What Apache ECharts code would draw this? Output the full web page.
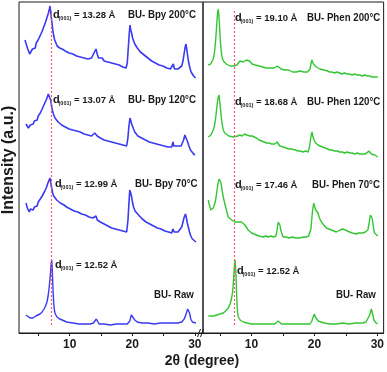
<!DOCTYPE html>
<html><head><meta charset="utf-8">
<script src="https://cdn.jsdelivr.net/npm/echarts@6/dist/echarts.min.js"></script>
<style>html,body{margin:0;padding:0;background:#fff}#c{width:387px;height:372px}</style>
</head><body><div id="c"></div>
<script>
// ---- data: [2theta, intensity (a.u.)] ----
var bpy200 = [[2.86,293],[3.0,290],[3.15,287],[3.3,284],[3.45,282],[3.6,279],[3.75,281],[3.9,280],[4.05,284],[4.2,282],[4.35,286],[4.5,285],[4.65,290],[4.8,289],[4.95,293],[5.1,292],[5.25,297],[5.4,296],[5.55,301],[5.7,300],[5.85,306],[6.0,305],[6.15,311],[6.3,312],[6.45,317],[6.6,320],[6.75,324],[6.85,327],[6.95,322],[7.05,316],[7.15,311],[7.3,303],[7.45,297],[7.6,293],[7.8,290],[8.0,287],[8.2,289],[8.4,285],[8.6,287],[8.8,284],[9.0,286],[9.3,282],[9.6,284],[9.9,280],[10.2,282],[10.5,279],[10.8,281],[11.1,277],[11.4,279],[11.7,276],[12.0,278],[12.3,275],[12.6,277],[12.9,274],[13.2,276],[13.5,275],[13.8,279],[14.0,281],[14.2,284],[14.4,279],[14.6,275],[14.9,273],[15.2,275],[15.5,272],[15.8,274],[16.1,271],[16.4,273],[16.7,270],[17.0,272],[17.3,269],[17.6,271],[17.9,268],[18.2,269],[18.5,266],[18.8,267],[19.0,265],[19.2,270],[19.35,284],[19.5,298],[19.63,308],[19.75,303],[19.9,300],[20.05,295],[20.2,293],[20.4,289],[20.6,287],[20.8,285],[21.0,284],[21.3,281],[21.6,281],[21.9,278],[22.2,278],[22.5,275],[22.8,275],[23.1,272],[23.4,273],[23.7,270],[24.0,271],[24.3,268],[24.6,269],[24.9,267],[25.2,268],[25.5,265],[25.8,266],[26.1,264],[26.35,266],[26.55,269],[26.75,264],[27.0,265],[27.3,264],[27.6,266],[27.9,267],[28.1,272],[28.3,280],[28.45,286],[28.58,289],[28.7,284],[28.85,277],[29.0,271],[29.2,265],[29.4,261],[29.6,259],[29.8,257],[30.0,257],[30.12,255]];
var bpy120 = [[3.02,209],[3.2,207],[3.4,205],[3.55,206],[3.7,208],[3.85,207],[4.0,210],[4.18,209],[4.35,212],[4.5,211],[4.65,214],[4.8,213],[4.98,217],[5.15,217],[5.3,220],[5.45,220],[5.6,224],[5.78,225],[5.95,229],[6.1,229],[6.25,233],[6.42,235],[6.58,239],[6.74,241],[6.85,237],[6.96,233],[7.1,227],[7.22,223],[7.4,219],[7.65,215],[7.9,213],[8.15,211],[8.45,210],[8.7,208],[9.0,209],[9.3,206],[9.6,207],[9.9,204],[10.2,206],[10.5,203],[10.8,205],[11.1,202],[11.4,203],[11.7,201],[12.0,202],[12.3,199],[12.6,201],[12.9,198],[13.2,199],[13.5,197],[13.8,198],[14.0,200],[14.2,200],[14.4,197],[14.6,196],[14.9,195],[15.2,196],[15.5,193],[15.8,194],[16.1,192],[16.4,193],[16.7,191],[17.0,192],[17.3,190],[17.6,191],[17.9,189],[18.2,190],[18.5,188],[18.8,189],[19.1,187],[19.3,195],[19.45,206],[19.63,215],[19.78,212],[19.9,209],[20.05,207],[20.2,204],[20.4,201],[20.6,199],[20.9,197],[21.2,196],[21.5,195],[21.8,194],[22.1,193],[22.4,193],[22.7,191],[23.0,192],[23.3,190],[23.6,191],[23.9,189],[24.2,190],[24.5,188],[24.8,189],[25.1,187],[25.4,188],[25.7,186],[26.0,187],[26.3,186],[26.5,191],[26.65,187],[26.9,186],[27.2,187],[27.5,185],[27.8,187],[28.0,189],[28.2,193],[28.4,198],[28.53,200],[28.68,196],[28.85,191],[29.05,187],[29.3,183],[29.55,181],[29.8,179],[30.01,178]];
var bpy70 = [[3.02,130],[3.15,127],[3.3,124],[3.45,122],[3.55,121],[3.7,124],[3.85,122],[4.0,124],[4.18,123],[4.35,126],[4.5,125],[4.65,128],[4.8,127],[4.98,131],[5.15,131],[5.3,134],[5.45,134],[5.6,137],[5.78,138],[5.95,141],[6.1,142],[6.25,145],[6.42,147],[6.58,151],[6.72,153],[6.85,155],[6.98,150],[7.12,145],[7.28,140],[7.45,137],[7.65,135],[7.92,133],[8.2,131],[8.5,130],[8.8,128],[9.1,128],[9.5,126],[9.8,126],[10.1,124],[10.4,124],[10.7,122],[11.0,123],[11.3,121],[11.6,121],[11.9,119],[12.2,120],[12.5,118],[12.8,118],[13.1,116],[13.4,116],[13.7,115],[14.0,117],[14.2,117],[14.4,113],[14.6,112],[14.9,111],[15.2,111],[15.5,109],[15.8,109],[16.1,107],[16.4,107],[16.7,105],[17.0,106],[17.3,104],[17.6,104],[17.9,103],[18.2,103],[18.5,102],[18.8,102],[19.1,101],[19.3,112],[19.45,128],[19.6,143],[19.75,140],[19.9,136],[20.05,130],[20.2,126],[20.45,122],[20.7,120],[21.0,118],[21.3,116],[21.6,114],[21.9,113],[22.2,111],[22.5,111],[22.8,109],[23.1,108],[23.4,107],[23.7,107],[24.0,105],[24.3,105],[24.6,104],[24.9,104],[25.2,102],[25.5,103],[25.8,101],[26.1,101],[26.3,100],[26.5,104],[26.7,101],[27.0,100],[27.3,101],[27.6,103],[27.9,106],[28.1,111],[28.3,116],[28.5,119],[28.65,115],[28.8,110],[28.95,106],[29.15,101],[29.35,97],[29.6,94],[29.85,92],[30.17,91]];
var bpyRaw = [[3.02,18],[3.3,16],[3.66,15],[4.14,15],[4.6,17],[5.25,19],[5.6,21],[5.9,24],[6.15,27],[6.37,31],[6.55,37],[6.69,44],[6.82,52],[6.93,60],[7.03,69],[7.12,73],[7.2,65],[7.28,52],[7.36,40],[7.45,30],[7.55,23],[7.7,19],[7.97,16],[8.4,14],[8.8,13],[9.5,11],[10.5,10],[11.5,9],[12.5,9],[13.3,9],[13.8,10],[14.05,12],[14.25,14],[14.45,12],[14.7,9],[15.5,9],[16.5,8],[17.5,9],[18.5,9],[19.2,9],[19.6,12],[19.85,18],[19.98,20],[20.15,16],[20.4,13],[20.8,11],[21.5,10],[22.5,10],[23.5,9],[24.5,10],[25.5,10],[26.5,10],[27.3,10],[27.9,11],[28.3,14],[28.6,19],[28.85,24],[29.0,25],[29.15,20],[29.35,14],[29.6,11],[29.9,10],[30.17,10]];

var phen200 = [[3.14,268],[3.3,270],[3.5,269],[3.68,271],[3.85,273],[4.04,277],[4.2,285],[4.36,297],[4.5,310],[4.6,319],[4.73,324],[4.82,318],[4.92,308],[5.02,296],[5.12,287],[5.25,279],[5.36,275],[5.55,272],[5.79,270],[6.0,269],[6.3,268],[6.6,267],[6.9,268],[7.1,267],[7.4,269],[7.7,268],[7.9,270],[8.16,272],[8.4,270],[8.7,271],[8.96,272],[9.2,273],[9.48,275],[9.7,272],[9.86,271],[10.1,269],[10.3,268],[10.6,268],[10.9,267],[11.2,267],[11.5,266],[11.8,266],[12.1,265],[12.4,265],[12.7,264],[13.0,265],[13.3,264],[13.6,265],[13.9,266],[14.15,267],[14.4,266],[14.7,264],[15.0,263],[15.3,263],[15.6,262],[15.9,263],[16.2,262],[16.5,261],[16.8,262],[17.1,261],[17.4,261],[17.7,262],[18.0,261],[18.3,261],[18.6,260],[18.9,261],[19.15,261],[19.3,264],[19.45,269],[19.6,273],[19.72,272],[19.85,269],[20.05,268],[20.3,266],[20.57,265],[20.9,264],[21.2,263],[21.5,263],[21.8,262],[22.1,262],[22.43,261],[22.8,261],[23.2,260],[23.6,261],[24.0,260],[24.4,259],[24.8,260],[25.2,259],[25.6,259],[26.0,258],[26.4,259],[26.8,258],[27.2,258],[27.6,257],[28.0,258],[28.4,257],[28.8,257],[29.2,256],[29.6,256],[30.08,256]];
var phen120 = [[3.14,196],[3.35,197],[3.55,198],[3.84,200],[4.0,204],[4.2,210],[4.35,217],[4.47,224],[4.58,230],[4.68,235],[4.84,238],[4.95,232],[5.08,224],[5.2,216],[5.35,209],[5.52,203],[5.75,200],[6.06,198],[6.4,197],[6.7,198],[7.1,196],[7.4,198],[7.8,197],[8.16,198],[8.5,197],[8.9,199],[9.23,198],[9.5,199],[9.75,197],[10.1,197],[10.4,196],[10.81,195],[11.2,193],[11.6,192],[12.0,191],[12.39,190],[12.8,190],[13.2,189],[13.71,189],[13.9,190],[14.08,191],[14.3,189],[14.5,187],[14.77,186],[15.1,186],[15.5,185],[15.9,184],[16.3,184],[16.61,183],[17.0,183],[17.4,182],[17.8,182],[18.2,181],[18.6,182],[18.99,181],[19.2,185],[19.36,192],[19.5,198],[19.62,201],[19.75,197],[19.94,193],[20.2,190],[20.57,188],[20.9,187],[21.3,186],[21.7,185],[22.1,184],[22.43,183],[22.8,183],[23.2,182],[23.6,182],[24.0,181],[24.4,181],[24.8,180],[25.2,181],[25.6,180],[26.0,180],[26.4,179],[26.8,180],[27.2,179],[27.6,179],[27.97,179],[28.3,180],[28.5,182],[28.66,182],[28.85,180],[29.05,179],[29.29,179],[29.6,178],[29.85,177],[30.08,176]];
var phen70 = [[3.14,133],[3.28,129],[3.41,126],[3.55,123],[3.68,121],[3.8,124],[3.93,125],[4.06,127],[4.2,130],[4.33,134],[4.47,140],[4.6,146],[4.73,151],[4.86,154],[4.99,156],[5.12,151],[5.26,146],[5.4,140],[5.52,136],[5.7,131],[5.9,126],[6.1,121],[6.31,116],[6.55,115],[6.85,113],[7.1,112],[7.4,111],[7.64,110],[7.9,111],[8.15,109],[8.43,111],[8.7,109],[8.96,108],[9.2,106],[9.48,103],[9.75,101],[10.02,100],[10.4,99],[10.8,98],[11.2,97],[11.5,97],[11.86,96],[12.3,97],[12.7,96],[13.1,97],[13.5,96],[13.87,97],[14.0,100],[14.13,106],[14.26,111],[14.39,113],[14.52,108],[14.66,103],[14.85,99],[15.03,96],[15.5,96],[16.0,95],[16.5,96],[17.0,95],[17.67,95],[18.2,96],[18.7,96],[19.1,97],[19.36,98],[19.47,105],[19.57,113],[19.7,122],[19.89,130],[20.05,126],[20.21,123],[20.4,121],[20.57,120],[20.8,115],[21.11,111],[21.5,108],[21.9,105],[22.3,104],[22.7,103],[23.1,102],[23.49,101],[23.8,102],[24.1,103],[24.53,104],[24.9,103],[25.2,102],[25.6,101],[26.0,100],[26.3,100],[26.66,99],[27.0,100],[27.3,101],[27.7,100],[28.1,101],[28.5,103],[28.65,108],[28.77,113],[28.9,118],[29.04,120],[29.17,115],[29.29,110],[29.42,104],[29.56,100],[29.8,98],[30.08,97]];
var phenRaw = [[3.14,17],[3.6,17],[4.0,17],[4.47,18],[5.0,19],[5.52,20],[5.9,22],[6.31,25],[6.6,29],[6.85,35],[7.0,41],[7.1,48],[7.2,58],[7.3,67],[7.4,73],[7.48,65],[7.58,52],[7.65,38],[7.72,27],[7.8,20],[7.9,16],[8.2,13],[8.69,11],[9.3,10],[10.0,9],[10.81,9],[11.8,9],[12.8,9],[13.71,9],[14.0,10],[14.24,12],[14.39,13],[14.55,11],[14.77,9],[15.5,9],[16.5,9],[17.5,9],[18.5,9],[19.3,9],[19.6,12],[19.8,16],[20.0,19],[20.15,16],[20.31,14],[20.6,12],[20.84,11],[21.5,10],[22.5,9],[23.5,9],[24.5,10],[25.5,9],[26.5,10],[27.3,10],[27.7,10],[28.2,11],[28.5,13],[28.8,18],[29.04,24],[29.17,21],[29.29,18],[29.45,13],[29.56,11],[29.8,10],[30.08,9]];

var refLineLeft = 7.04, refLineRight = 7.2;
var majorTicks = [10, 20, 30];
var allTicks = [5, 10, 15, 20, 25, 30];
var dLeft = ['13.28', '13.07', '12.99', '12.52'];
var dRight = ['19.10', '18.68', '17.46', '12.52'];
var namesLeft = ['BU- Bpy 200°C', 'BU- Bpy 120°C', 'BU- Bpy 70°C', 'BU- Raw'];
var namesRight = ['BU- Phen 200°C', 'BU- Phen 120°C', 'BU- Phen 70°C', 'BU- Raw'];

var BLUE = '#3a3af2', GREEN = '#33c633', RED = '#ff4f72', INK = '#1a1a1a';
var FONT = '"Liberation Sans", Arial, sans-serif';

function xAx(grid, min, max) {
  return {
    gridIndex: grid, type: 'value', min: min, max: max,
    axisLine: { show: true, lineStyle: { color: INK, width: 1 } },
    axisTick: { show: true, inside: false, length: 3, customValues: allTicks, lineStyle: { color: INK } },
    axisLabel: { customValues: majorTicks, color: INK, fontSize: 12, fontWeight: 'bold', fontFamily: FONT, margin: 6 },
    splitLine: { show: false }
  };
}
function yAx(grid) {
  return { gridIndex: grid, type: 'value', min: 0, max: 331, show: false };
}
function ser(grid, data, color, width, mark) {
  var s = {
    type: 'line', xAxisIndex: grid, yAxisIndex: grid, data: data, showSymbol: false, symbol: 'none',
    lineStyle: { color: color, width: width }, silent: true, z: 3
  };
  if (mark !== undefined) {
    s.markLine = {
      silent: true, symbol: 'none', label: { show: false },
      lineStyle: { color: RED, type: [2, 2], width: 1.2, opacity: 1 },
      data: [[{ coord: [mark, 8] }, { coord: [mark, 323] }]]
    };
  }
  return s;
}

var graphics = [];
function dLabel(x, y, val) {
  graphics.push({ type: 'text', x: x, y: y, style: { text: 'd', font: 'bold 11px ' + FONT, fill: INK, verticalAlign: 'middle' } });
  graphics.push({ type: 'text', x: x + 5.5, y: y + 3.5, style: { text: '(001)', font: 'bold 5.5px ' + FONT, fill: INK, verticalAlign: 'middle' } });
  graphics.push({ type: 'text', x: x + 21, y: y, style: { text: '= ' + val + ' Å', font: 'bold 9.5px ' + FONT, fill: INK, verticalAlign: 'middle' } });
}
function nLabel(x, y, t) {
  graphics.push({ type: 'text', x: x, y: y, scaleX: 0.88, style: { text: t, font: 'bold 11px ' + FONT, fill: INK, verticalAlign: 'middle' } });
}
var dPosL = [[53, 15], [53, 100], [55, 184], [55, 265]];
var nPosL = [[128, 15], [128, 100], [135, 184], [154, 295]];
var dPosR = [[235, 18], [235, 102], [235, 185], [237, 271]];
var nPosR = [[307, 18], [307, 102], [312, 185], [336, 295]];
for (var i = 0; i < 4; i++) {
  dLabel(dPosL[i][0], dPosL[i][1], dLeft[i]);
  nLabel(nPosL[i][0], nPosL[i][1], namesLeft[i]);
  dLabel(dPosR[i][0], dPosR[i][1], dRight[i]);
  nLabel(nPosR[i][0], nPosR[i][1], namesRight[i]);
}
graphics.push({ type: 'text', x: 9, y: 160, rotation: Math.PI / 2,
  style: { text: 'Intensity (a.u.)', font: 'bold 16px ' + FONT, fill: INK, align: 'center', verticalAlign: 'middle' } });
graphics.push({ type: 'text', x: 202, y: 361,
  style: { text: '2θ (degree)', font: 'bold 14px ' + FONT, fill: INK, align: 'center', verticalAlign: 'middle' } });
graphics.push({ type: 'line', shape: { x1: 197.5, y1: 337, x2: 200.5, y2: 329 }, style: { stroke: INK, lineWidth: 1 }, z: 10 });
graphics.push({ type: 'line', shape: { x1: 200.5, y1: 337, x2: 203.5, y2: 329 }, style: { stroke: INK, lineWidth: 1 }, z: 10 });

var chart = echarts.init(document.getElementById('c'), null, { renderer: 'canvas' });
chart.setOption({
  animation: false,
  backgroundColor: '#fff',
  grid: [
    { left: 19, right: 387 - 203, top: 2, bottom: 372 - 333, show: true, borderColor: INK, borderWidth: 1, backgroundColor: 'transparent' },
    { left: 203, right: 3, top: 2, bottom: 372 - 333, show: true, borderColor: INK, borderWidth: 1, backgroundColor: 'transparent' }
  ],
  xAxis: [xAx(0, 1.9, 31.3), xAx(1, 2.3, 31.0)],
  yAxis: [yAx(0), yAx(1)],
  series: [
    ser(0, bpy200, BLUE, 1.6), ser(0, bpy120, BLUE, 1.6), ser(0, bpy70, BLUE, 1.6), ser(0, bpyRaw, BLUE, 1.4, refLineLeft),
    ser(1, phen200, GREEN, 1.4), ser(1, phen120, GREEN, 1.4), ser(1, phen70, GREEN, 1.4), ser(1, phenRaw, GREEN, 1.4, refLineRight)
  ],
  graphic: graphics
});
</script></body></html>
